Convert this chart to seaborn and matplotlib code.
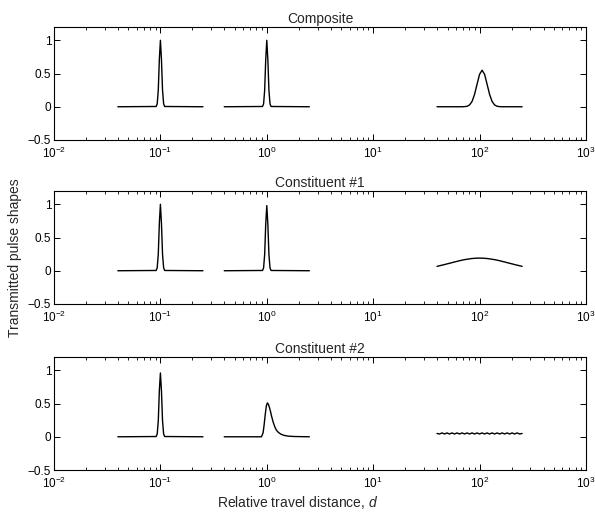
import matplotlib
matplotlib.use("Agg")
import matplotlib.pyplot as plt
import seaborn as sns
import pandas as pd
from matplotlib.ticker import LogLocator, FixedLocator

# ---------------- data ----------------
titles = ["Composite", "Constituent #1", "Constituent #2"]
y_ticks = [-0.5, 0, 0.5, 1]
y_tick_labels = ["\u22120.5", "0", "0.5", "1"]

# narrow-pulse grids around d = 0.1 and d = 1
x_p01 = [0.0398, 0.0912, 0.0933, 0.0955, 0.0977, 0.1, 0.1023, 0.1047, 0.1072, 0.1096, 0.2512]
x_p1 = [0.398, 0.912, 0.933, 0.955, 0.977, 1.0, 1.023, 1.047, 1.072, 1.096, 2.512]

comp_y01 = [0, 0.004, 0.044, 0.25, 0.71, 1.0, 0.71, 0.25, 0.044, 0.004, 0]
comp_y1 = [0, 0.004, 0.044, 0.25, 0.71, 1.0, 0.71, 0.25, 0.044, 0.004, 0]
c1_y01 = [0, 0.004, 0.044, 0.25, 0.71, 1.0, 0.71, 0.25, 0.044, 0.004, 0]
c1_y1 = [0, 0.004, 0.043, 0.245, 0.70, 0.98, 0.70, 0.245, 0.043, 0.004, 0]
c2_y01 = [0, 0.004, 0.043, 0.24, 0.69, 0.96, 0.69, 0.24, 0.043, 0.004, 0]

# constituent #2 dispersed pulse around d = 1
c2_x1 = [0.398, 0.891, 0.923, 0.944, 0.966, 0.989, 1.012, 1.035, 1.059, 1.084,
         1.109, 1.148, 1.189, 1.230, 1.288, 1.349, 1.445, 1.585, 1.820, 2.512]
c2_y1 = [0, 0, 0.06, 0.18, 0.33, 0.46, 0.51, 0.49, 0.44, 0.38,
         0.31, 0.22, 0.15, 0.10, 0.065, 0.042, 0.022, 0.010, 0.004, 0]

# grid around d = 100
x_p100 = [39.81, 42.03, 44.37, 46.84, 49.44, 52.19, 55.11, 58.17, 61.41, 64.83,
          68.44, 72.24, 76.28, 80.52, 85.00, 89.72, 94.73, 100.0, 105.56, 111.46,
          117.65, 124.19, 131.10, 138.42, 146.11, 154.24, 162.85, 171.90, 181.47, 191.60,
          202.26, 213.51, 225.37, 237.95, 251.19]
comp_y100 = [0, 0, 0, 0, 0, 0, 0, 0, 0, 0,
             0, 0.002, 0.007, 0.027, 0.08, 0.186, 0.34, 0.488, 0.55, 0.488,
             0.34, 0.186, 0.08, 0.027, 0.007, 0.002, 0, 0, 0, 0,
             0, 0, 0, 0, 0]
c1_y100 = [0.066, 0.075, 0.084, 0.093, 0.103, 0.112, 0.122, 0.132, 0.141, 0.151,
           0.159, 0.167, 0.173, 0.179, 0.184, 0.187, 0.189, 0.19, 0.189, 0.187,
           0.184, 0.179, 0.173, 0.167, 0.159, 0.151, 0.141, 0.132, 0.122, 0.112,
           0.103, 0.093, 0.084, 0.075, 0.066]
c2_y100 = [0.050, 0.042, 0.058, 0.042, 0.058, 0.042, 0.058, 0.042, 0.058, 0.042,
           0.058, 0.042, 0.058, 0.042, 0.058, 0.042, 0.058, 0.042, 0.058, 0.042,
           0.058, 0.042, 0.058, 0.042, 0.058, 0.042, 0.058, 0.042, 0.058, 0.042,
           0.058, 0.042, 0.058, 0.042, 0.050]

panels = [
    [(x_p01, comp_y01), (x_p1, comp_y1), (x_p100, comp_y100)],
    [(x_p01, c1_y01), (x_p1, c1_y1), (x_p100, c1_y100)],
    [(x_p01, c2_y01), (c2_x1, c2_y1), (x_p100, c2_y100)],
]

# ---------------- style ----------------
sns.set_style("ticks")
plt.rcParams["font.family"] = ["Liberation Sans", "DejaVu Sans"]
plt.rcParams["mathtext.fontset"] = "custom"
plt.rcParams["mathtext.rm"] = "Liberation Sans"
plt.rcParams["mathtext.it"] = "Liberation Sans:italic"
plt.rcParams.update({
    "xtick.direction": "in", "ytick.direction": "in",
    "xtick.top": True, "ytick.right": True,
    "xtick.major.size": 4, "ytick.major.size": 4,
    "xtick.minor.size": 2.2, "xtick.major.width": 0.7, "xtick.minor.width": 0.6,
    "ytick.major.width": 0.7, "axes.linewidth": 0.8,
    "axes.edgecolor": "black", "xtick.color": "black", "ytick.color": "black",
    "xtick.labelsize": 8.5, "ytick.labelsize": 8.5,
})

fig = plt.figure(figsize=(5.95, 5.16), dpi=100)
left, width, height = 0.0908, 0.894, 0.219
bottoms = [0.7287, 0.4109, 0.0891]

for i, (title, pulses) in enumerate(zip(titles, panels)):
    ax = fig.add_axes([left, bottoms[i], width, height])
    for xs, ys in pulses:
        df = pd.DataFrame({"d": xs, "v": ys})
        sns.lineplot(data=df, x="d", y="v", ax=ax, color="black", linewidth=1.0,
                     estimator=None, sort=False)
    ax.set_xscale("log")
    ax.set_xlim(1e-2, 1e3)
    ax.set_ylim(-0.5, 1.2)
    ax.yaxis.set_major_locator(FixedLocator(y_ticks))
    ax.set_yticklabels(y_tick_labels)
    ax.xaxis.set_major_locator(LogLocator(base=10, numticks=10))
    ax.xaxis.set_minor_locator(LogLocator(base=10, subs=range(2, 10), numticks=20))
    ax.set_xlabel("")
    ax.set_ylabel("")
    ax.set_title(title, fontsize=10, pad=3)
    ax.tick_params(axis="x", which="both", pad=4.5)
    ax.tick_params(axis="y", pad=2)

fig.text(0.5, 0.026, "Relative travel distance, $\\mathit{d}$", ha="center",
         va="center", fontsize=10)
fig.text(0.026, 0.5, "Transmitted pulse shapes", ha="center", va="center",
         rotation=90, fontsize=10)

fig.savefig("out.png", dpi=100)
